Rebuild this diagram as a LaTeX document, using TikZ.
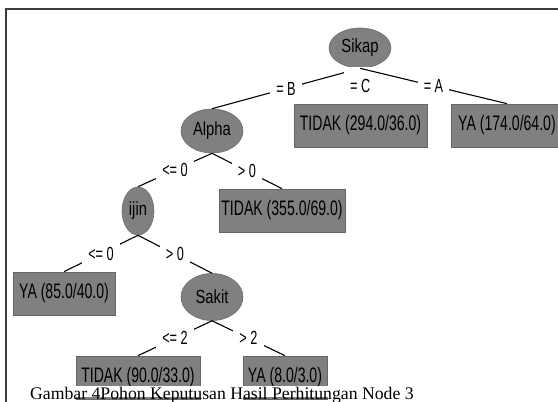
\documentclass[tikz,border=0pt]{standalone}
\usepackage{fontspec}
\setmainfont{Liberation Serif}
\newfontfamily\boxfont[FakeStretch=0.67]{Liberation Sans}
\newfontfamily\ellfont[FakeStretch=0.78]{Liberation Sans}
\usetikzlibrary{shapes.geometric}
\definecolor{nodegray}{RGB}{128,128,128}
\definecolor{framegray}{RGB}{60,60,60}
\begin{document}
\begin{tikzpicture}[x=1pt,y=-1pt,
  leaf/.style={rectangle, fill=nodegray, draw=nodegray!80!black, line width=0.7pt,
    minimum height=43pt, inner sep=0pt, font=\boxfont\fontsize{21}{22}\selectfont},
  split/.style={ellipse, fill=nodegray, draw=nodegray!85!black, line width=0.6pt,
    inner sep=0pt, font=\ellfont\fontsize{19}{20}\selectfont},
  link/.style={draw=black, line width=1.1pt},
  cond/.style={fill=white, inner xsep=6pt, inner ysep=0pt, minimum height=22pt,
    font=\boxfont\fontsize{19}{20}\selectfont},
]
\useasboundingbox (0,0) rectangle (558,402);
\clip (0,0) rectangle (558,402);
\fill[white] (0,0) rectangle (558,402);
% frame
\draw[framegray, line width=2pt] (6,430) -- (6,9) -- (600,9);

% split nodes
\node[split, minimum width=62pt, minimum height=40pt] (sikap) at (360,48) {Sikap};
\node[split, minimum width=62pt, minimum height=44pt] (alpha) at (212,131) {Alpha};
\node[split, minimum width=32pt, minimum height=48pt] (ijin) at (138,211) {ijin};
\node[split, minimum width=62pt, minimum height=47pt] (sakit) at (212,297) {Sakit};

% leaves
\node[leaf, minimum width=133pt] (t294) at (360.5,125.5) {TIDAK (294.0/36.0)};
\node[leaf, minimum width=112pt] (y174) at (507,125.5) {YA (174.0/64.0)};
\node[leaf, minimum width=126pt] (t355) at (282,210.5) {TIDAK (355.0/69.0)};
\node[leaf, minimum width=102pt] (y85) at (64,293.5) {YA (85.0/40.0)};
\node[leaf, minimum width=124pt] (t90) at (138,377.5) {TIDAK (90.0/33.0)};
\node[leaf, minimum width=84pt] (y8) at (285,377.5) {YA (8.0/3.0)};

% edges
\draw[link] (sikap.south) -- node[cond] {= B} (alpha.north);
\draw[link] (sikap.south) -- node[cond, minimum height=37pt] {= C} (t294.north);
\draw[link] (sikap.south) -- node[cond] {= A} (y174.north);
\draw[link] (alpha.south) -- node[cond] {<= 0} (ijin.north);
\draw[link] (alpha.south) -- node[cond] {> 0} (t355.north);
\draw[link] (ijin.south) -- node[cond] {<= 0} (y85.north);
\draw[link] (ijin.south) -- node[cond] {> 0} (sakit.north);
\draw[link] (sakit.south) -- node[cond] {<= 2} (t90.north);
\draw[link] (sakit.south) -- node[cond] {> 2} (y8.north);

% caption
\fill[white] (28,386) rectangle (416,397);
\node[anchor=base west, inner sep=0pt, font=\fontsize{17.7}{20}\selectfont] (cap) at (30,399.5)
  {Gambar 4Pohon Keputusan Hasil Perhitungan Node 3};
\end{tikzpicture}
\end{document}
